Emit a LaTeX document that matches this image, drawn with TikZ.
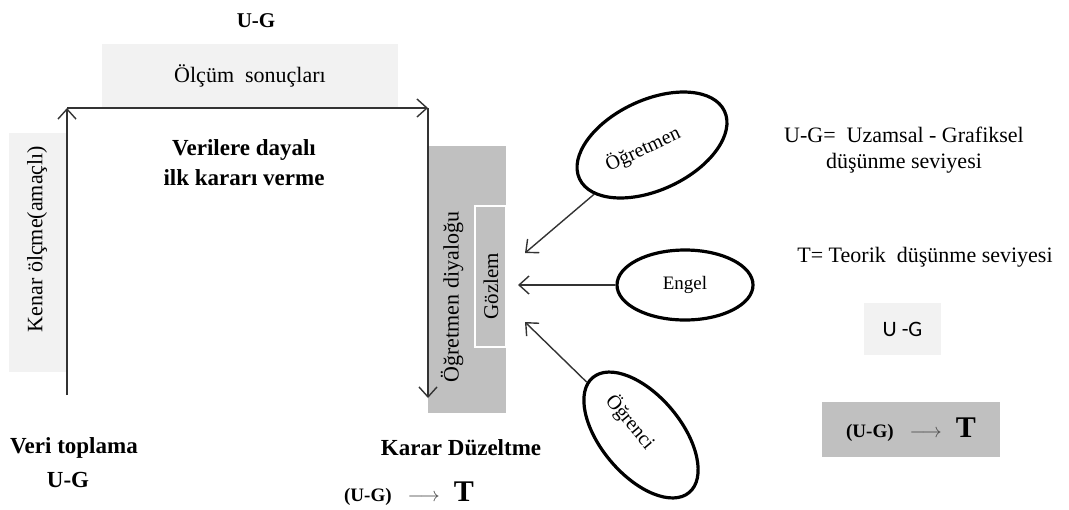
\documentclass[tikz,border=0pt]{standalone}
\usepackage{fontspec}
\setmainfont{Liberation Serif}
\newfontfamily\calibrifont{Carlito}
\usepackage{tikz}
\usetikzlibrary{arrows.meta,shapes.geometric,calc}
\definecolor{boxlight}{HTML}{F2F2F2}
\definecolor{boxdark}{HTML}{C0C0C0}
\definecolor{linegray}{HTML}{333333}
\newcommand{\ugtot}{{\fontsize{9.5}{11}\selectfont\bfseries (U-G)}\hspace{8pt}{\color{black!70}$\longrightarrow$}\hspace{7pt}{\fontsize{15}{18}\selectfont\bfseries T}}

\begin{document}
\begin{tikzpicture}[x=0.5pt, y=-0.5pt,
  lightbox/.style={fill=boxlight, inner sep=0pt},
  darkbox/.style={fill=boxdark, inner sep=0pt},
  txt/.style={inner sep=0pt, font=\fontsize{11}{13}\selectfont, align=center},
  bold/.style={inner sep=0pt, font=\fontsize{11.5}{15}\selectfont\bfseries, align=center},
  oval/.style={ellipse, draw=black, line width=1.6pt, inner sep=0pt,
    font=\fontsize{10}{12}\selectfont},
  arr/.style={-{Straight Barb[length=5pt,width=9pt]}, line width=0.7pt, draw=linegray}
]
  \useasboundingbox (0,0) rectangle (1069,509);

  % boxes
  \node[lightbox, minimum width=148pt, minimum height=31.5pt] (olcum) at (250,75.5) {};
  \node[lightbox, minimum width=28.5pt, minimum height=119.5pt] (kenar) at (37.5,252.5) {};
  \node[darkbox, minimum width=39pt, minimum height=133.5pt] (diyalog) at (467,279.5) {};
  \node[darkbox, draw=white, line width=0.8pt, minimum width=15.5pt, minimum height=70.5pt]
    (gozlem) at (490.5,276.5) {};

  % texts of the boxes
  \node[txt] (olcumtxt) at (olcum.center) {Ölçüm\ \ sonuçları};
  \node[txt, rotate=90] (kenartxt) at (37,239) {Kenar ölçme(amaçlı)};
  \node[txt, rotate=90] (diyalogtxt) at (452,297) {Öğretmen diyaloğu};
  \node[txt, rotate=90, font=\fontsize{10.5}{12}\selectfont] (gozlemtxt) at (491,286) {Gözlem};

  % headings
  \node[bold, font=\fontsize{10.5}{12}\selectfont\bfseries] (ugtop) at (256,21) {U-G};
  \node[bold] (ilkkarar) at (244,163) {Verilere dayalı\\ilk kararı verme};
  \node[bold] (veri) at (74,448) {Veri toplama};
  \node[bold] (veriug) at (68,480) {U-G};
  \node[bold] (duzelt) at (461,448) {Karar Düzeltme};
  \node[inner sep=0pt] (duzeltug) at (409,494) {\ugtot};

  % cycle
  \coordinate (bl) at (67,395);
  \coordinate (tl) at (67,108);
  \coordinate (tr) at (428,108);
  \coordinate (br) at (428,398);
  \draw[arr] (bl) -- (tl);
  \draw[arr] (tl) -- (tr);
  \draw[arr] (tr) -- (br);

  % sources of observation
  \node[oval, minimum width=80pt, minimum height=45pt, rotate=25] (ogretmen) at (652,145)
    {Öğretmen\hspace*{10pt}};
  \node[oval, font=\fontsize{9.5}{11}\selectfont, minimum width=68pt, minimum height=35pt]
    (engel) at (685,285) {Engel};
  \node[oval, minimum width=75pt, minimum height=40pt, rotate=-50] (ogrenci) at (641,435)
    {Öğrenci\hspace*{17pt}};

  \coordinate (in1) at (525,253);
  \coordinate (in2) at (518,285);
  \coordinate (in3) at (525,322);
  \draw[arr] (ogretmen) -- (in1);
  \draw[arr] (engel) -- (in2);
  \draw[arr] (ogrenci) -- (in3);

  % legend
  \node[txt] (legug) at (904,150) {U-G=\ \ Uzamsal - Grafiksel\\düşünme seviyesi};
  \node[txt] (legt) at (925,257) {T= Teorik\ \ düşünme seviyesi};
  \node[lightbox, minimum width=38.5pt, minimum height=26pt,
    font=\calibrifont\fontsize{11}{13}\selectfont] (legbox) at (902.5,329) {U -G};
  \node[darkbox, minimum width=89pt, minimum height=27.5pt] (legarrow) at (911,429.5) {\ugtot};
\end{tikzpicture}
\end{document}
